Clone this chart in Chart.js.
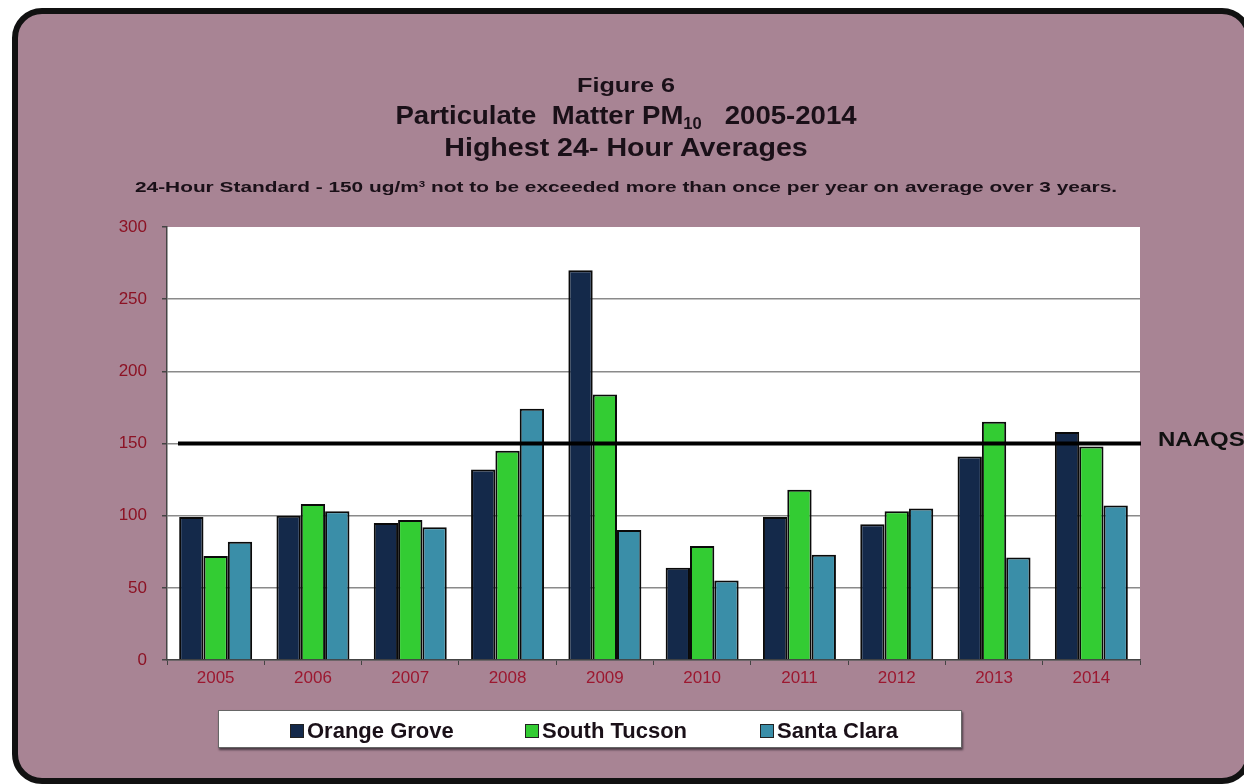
<!DOCTYPE html>
<html>
<head>
<meta charset="utf-8">
<script src="https://cdn.jsdelivr.net/npm/chart.js@4"></script>
<style>
  html, body { margin: 0; padding: 0; background: #fff; }
  #page { position: relative; width: 1244px; height: 784px; overflow: hidden; font-family: "Liberation Sans", Arial, sans-serif; }
  #frame {
    position: absolute; left: 12px; top: 8px; width: 1228px; height: 764px;
    background: #a88494; border: 6px solid #111; border-radius: 30px;
  }
  #chartBox { position: absolute; left: 0; top: 0; width: 1244px; height: 784px; }
  .t { position: absolute; left: 0; width: 1252px; text-align: center; color: #1a1018; font-weight: bold; white-space: nowrap; line-height: 1; }
  #t1 { top: 74px; font-size: 21px; transform: scaleX(1.2); }
  #t2 { top: 102px; font-size: 26px; transform: scaleX(1.06); }
  #t3 { top: 134px; font-size: 26px; transform: scaleX(1.1); }
  #t4 { top: 179px; font-size: 15px; transform: scaleX(1.39); }
  sub { font-size: 60%; vertical-align: -0.35em; line-height: 0; }
  sup { font-size: 55%; vertical-align: 0.6em; line-height: 0; }
  #legend {
    position: absolute; left: 218px; top: 710px; width: 742px; height: 36px;
    background: #fff; border: 1px solid #666; box-shadow: 1px 2px 2px #4a3a44;
  }
  .item { position: absolute; top: 9px; font-size: 22px; line-height: 1; font-weight: bold; color: #1a1018; white-space: nowrap; }
  .sw { display: inline-block; width: 12px; height: 12px; border: 1px solid #222; margin-right: 3px; vertical-align: 0px; }
</style>
</head>
<body>
<div id="page">
  <div id="frame"></div>
  <div id="chartBox"><canvas id="pmChart"></canvas></div>
  <div class="t" id="t1">Figure 6</div>
  <div class="t" id="t2">Particulate &nbsp;Matter PM<sub>10</sub> &nbsp;&nbsp;2005-2014</div>
  <div class="t" id="t3">Highest 24- Hour Averages</div>
  <div class="t" id="t4">24-Hour Standard - 150 ug/m<sup>3</sup> not to be exceeded more than once per year on average over 3 years.</div>
  <div id="legend"></div>
</div>
<script>
// -------- DATA --------
const years = ["2005", "2006", "2007", "2008", "2009", "2010", "2011", "2012", "2013", "2014"];
const orangeGrove = [99, 100, 95, 132, 270, 64, 99, 94, 141, 158];
const southTucson = [72, 108, 97, 145, 184, 79, 118, 103, 165, 148];
const santaClara = [82, 103, 92, 174, 90, 55, 73, 105, 71, 107];
const yTicks = [0, 50, 100, 150, 200, 250, 300];
const naaqs = 150;

const seriesNames = ["Orange Grove", "South Tucson", "Santa Clara"];
const seriesColors = ["#14294a", "#33cc33", "#3a8ea8"];

// -------- PLUGINS --------
const plotBg = {
  id: "plotBg",
  beforeDraw(chart) {
    const a = chart.chartArea;
    const ctx = chart.ctx;
    ctx.save();
    ctx.fillStyle = "#fff";
    ctx.fillRect(a.left, a.top, a.right - a.left, a.bottom - a.top);
    ctx.restore();
  }
};

// standard line + label
const naaqsLine = {
  id: "naaqsLine",
  afterDatasetsDraw(chart) {
    const a = chart.chartArea;
    const y = chart.scales.y.getPixelForValue(naaqs);
    const ctx = chart.ctx;
    ctx.save();
    ctx.strokeStyle = "#000";
    ctx.lineWidth = 4;
    ctx.beginPath();
    ctx.moveTo(a.left + 11, y);
    ctx.lineTo(a.right + 1, y);
    ctx.stroke();
    ctx.fillStyle = "#111";
    ctx.font = "bold 20px 'Liberation Sans', Arial, sans-serif";
    ctx.translate(a.right + 18, y + 2);
    ctx.scale(1.2, 1);
    ctx.fillText("NAAQS", 0, 0);
    ctx.restore();
  }
};

// -------- CHART --------
const ctx = document.getElementById("pmChart").getContext("2d");
const chart = new Chart(ctx, {
  type: "bar",
  data: {
    labels: years,
    datasets: [orangeGrove, southTucson, santaClara].map((d, i) => ({
      label: seriesNames[i],
      data: d,
      backgroundColor: seriesColors[i],
      borderColor: "#0a0a0a",
      borderWidth: 2,
      categoryPercentage: 0.75,
      barPercentage: 1.0
    }))
  },
  options: {
    responsive: true,
    maintainAspectRatio: false,
    animation: false,
    layout: { padding: { left: 100, right: 104, top: 227, bottom: 84 } },
    plugins: {
      legend: { display: false },
      tooltip: { enabled: false }
    },
    scales: {
      x: {
        grid: { drawOnChartArea: false, drawTicks: true, tickLength: 5, color: "#444" },
        border: { color: "#444", width: 1.5 },
        ticks: { color: "#9c1830", font: { size: 17, family: "'Liberation Sans', Arial, sans-serif" }, padding: 3 },
        afterFit(s) { s.height = 40; }
      },
      y: {
        min: 0,
        max: 300,
        afterBuildTicks(s) { s.ticks = yTicks.map(v => ({ value: v })); },
        grid: {
          color: (c) => (c.tick && c.tick.value === 300 ? "rgba(0,0,0,0)" : "#8a8a8a"),
          tickColor: "#444",
          lineWidth: 1.5,
          tickLength: 5
        },
        border: { color: "#444", width: 1.5 },
        ticks: { color: "#8c1224", font: { size: 17, family: "'Liberation Sans', Arial, sans-serif" }, padding: 15 },
        afterFit(s) { s.width = 67; }
      }
    }
  },
  plugins: [plotBg, naaqsLine]
});

// -------- LEGEND --------
const legend = document.getElementById("legend");
const legendX = [71, 306, 541];
seriesNames.forEach((name, i) => {
  const el = document.createElement("div");
  el.className = "item";
  el.style.left = legendX[i] + "px";
  el.innerHTML = '<span class="sw" style="background:' + seriesColors[i] + '"></span>' + name;
  legend.appendChild(el);
});
</script>
</body>
</html>
